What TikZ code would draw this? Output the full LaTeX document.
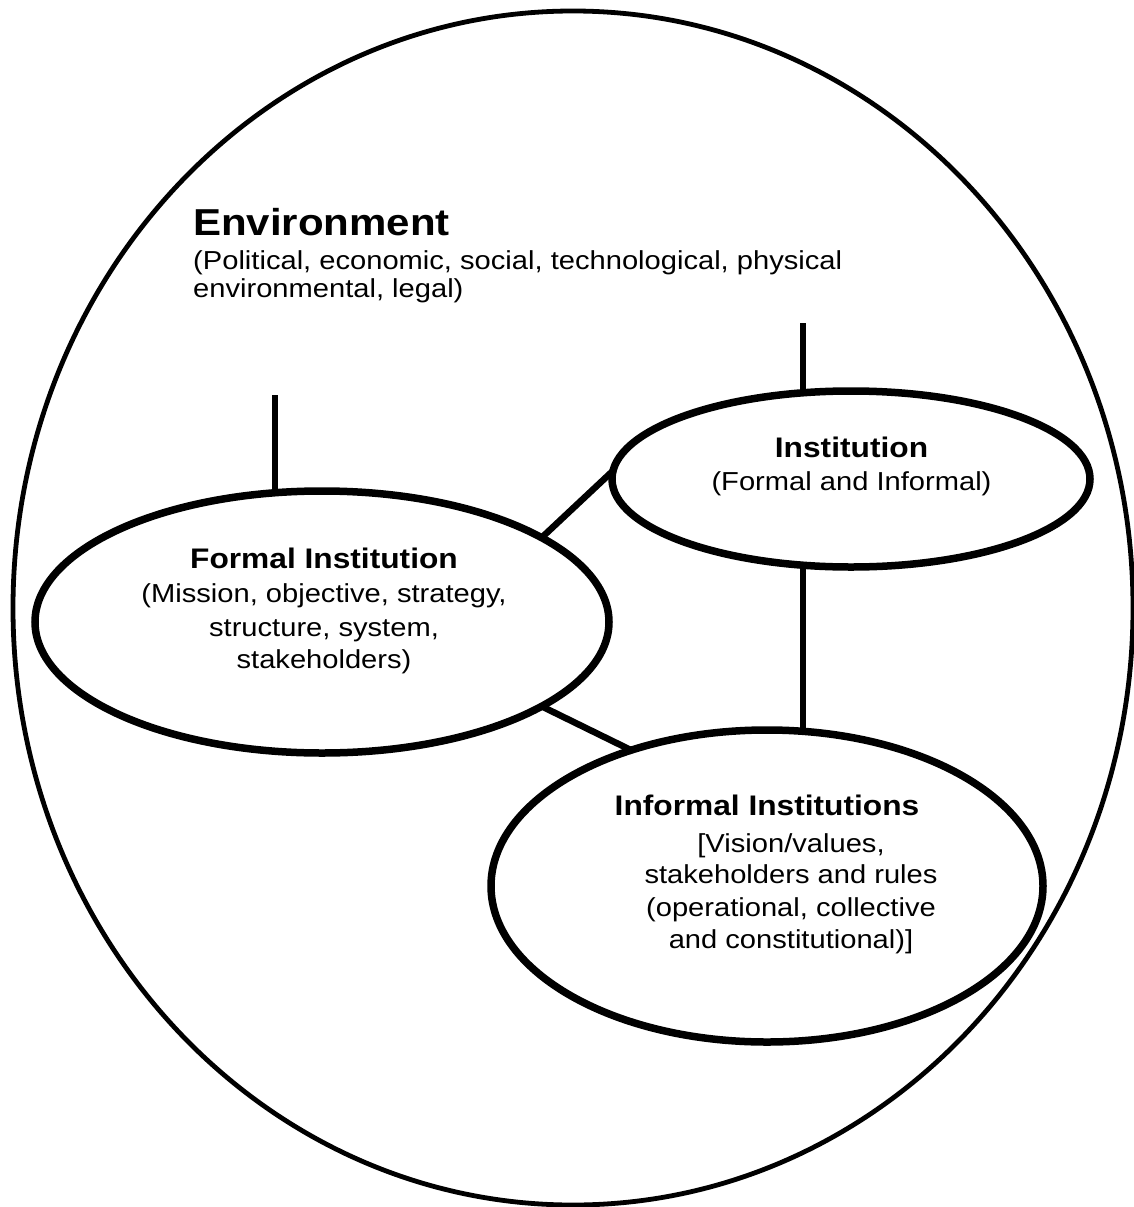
\documentclass[tikz,border=0pt]{standalone}
\usepackage{fontspec}
\setmainfont{Liberation Sans}[FakeStretch=1.12]
\usetikzlibrary{shapes.geometric}

\begin{document}
\begin{tikzpicture}[x=1pt,y=-1pt,
  outerring/.style={draw, ellipse, line width=4.8pt, inner sep=0pt, outer sep=0pt},
  instring/.style={draw, ellipse, line width=7.5pt, inner sep=0pt, outer sep=0pt},
  link/.style={line width=6.5pt},
  envtitle/.style={font=\fontsize{37.5}{45}\selectfont\bfseries, inner sep=0pt, anchor=base west},
  envtext/.style={font=\fontsize{26}{30}\selectfont, inner sep=0pt, anchor=base west},
  headtext/.style={font=\fontsize{28.3}{34}\selectfont\bfseries, inner sep=0pt, anchor=base},
  bodytext/.style={font=\fontsize{26}{32}\selectfont, inner sep=0pt, anchor=base},
]
\useasboundingbox (0,0) rectangle (1133,1207);

% the environment surrounding everything
\node[outerring, minimum width=1120pt, minimum height=1194pt] (env) at (573,608) {};

% the three institution ellipses
\node[instring, minimum width=574pt, minimum height=262pt] (formal) at (322,622) {};
\node[instring, minimum width=478pt, minimum height=176pt] (inst) at (851,479) {};
\node[instring, minimum width=552pt, minimum height=312pt] (informal) at (767,886) {};

% free ends of the vertical stubs
\coordinate (lstub) at (275,395);
\coordinate (rstub) at (803,323);

% connectors
\draw[link] (lstub) -- (lstub |- formal.110);
\draw[link] (rstub) -- (rstub |- inst.119);
\draw[link] (rstub |- inst.241) -- (rstub |- informal.77);
\draw[link] (formal.21.5) -- (inst.178);
\draw[link] (formal.-21) -- (informal.135);

% environment label
\node[envtitle] (envhead) at (193,235) {Environment};
\node[envtext] (envl1) at (193,269) {(Political, economic, social, technological, physical};
\node[envtext] (envl2) at (193,297) {environmental, legal)};

% institution label
\node[headtext] (insthead) at (851.5,457) {Institution};
\node[bodytext] (instl1) at (851.5,490) {(Formal and Informal)};

% formal institution label
\node[headtext] (formalhead) at (324,568) {Formal Institution};
\node[bodytext] (formall1) at (324,602.5) {(Mission, objective, strategy,};
\node[bodytext] (formall2) at (324,636) {structure, system,};
\node[bodytext] (formall3) at (324,668) {stakeholders)};

% informal institutions label
\node[headtext] (infhead) at (767,815) {Informal Institutions};
\node[bodytext] (infl1) at (791,852) {[Vision/values,};
\node[bodytext] (infl2) at (791,883.5) {stakeholders and rules};
\node[bodytext] (infl3) at (791,916.5) {(operational, collective};
\node[bodytext] (infl4) at (791,948.5) {and constitutional)]};
\end{tikzpicture}
\end{document}
